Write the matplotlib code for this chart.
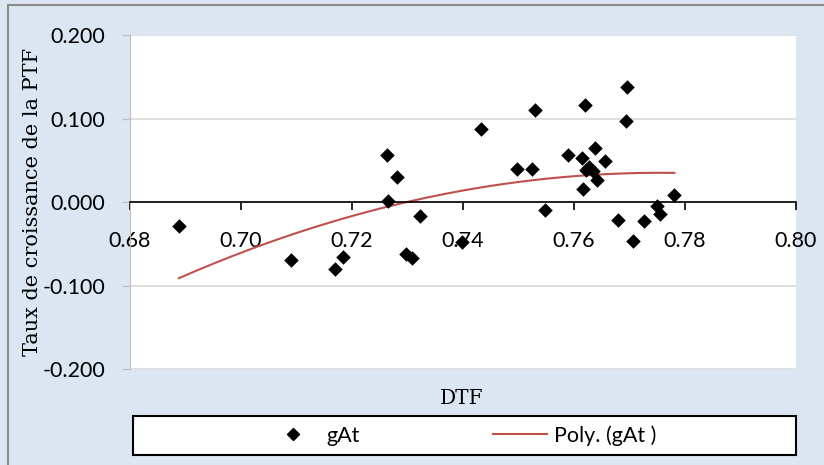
import numpy as np
import matplotlib
matplotlib.use('Agg')
import matplotlib.pyplot as plt
from matplotlib.patches import Rectangle
from matplotlib.lines import Line2D

# données
dtf = [0.6888, 0.7090, 0.7169, 0.7184, 0.7263, 0.7281, 0.7265, 0.7297, 0.7309,
       0.7323, 0.7398, 0.7433, 0.7529, 0.7497, 0.7524, 0.7547, 0.7619, 0.7696,
       0.7694, 0.7589, 0.7614, 0.7638, 0.7656, 0.7627, 0.7634, 0.7622, 0.7641,
       0.7617, 0.7679, 0.7706, 0.7727, 0.7749, 0.7755, 0.7781]
gat = [-0.0284, -0.0695, -0.0795, -0.0659, 0.0566, 0.0303, 0.0016, -0.0619, -0.0663,
       -0.0168, -0.0472, 0.0881, 0.1097, 0.0399, 0.0399, -0.0092, 0.1157, 0.1373,
       0.0974, 0.0566, 0.0534, 0.0647, 0.0495, 0.0426, 0.0367, 0.0379, 0.0267,
       0.0156, -0.0208, -0.0467, -0.0220, -0.0041, -0.0144, 0.0084]
x_ticks = [0.68, 0.70, 0.72, 0.74, 0.76, 0.78, 0.80]
y_ticks = [-0.2, -0.1, 0.0, 0.1, 0.2]

# tendance polynomiale (ordre 2), comme Excel
coef = np.polyfit(dtf, gat, 2)
xs = np.linspace(min(dtf), max(dtf), 200)
ys = np.polyval(coef, xs)

bg = '#DCE6F2'
fig = plt.figure(figsize=(8.24, 4.65), dpi=100, facecolor=bg)
fig.patches.append(Rectangle((8 / 824, -0.1), 1.2, 1.1 - 5 / 465, transform=fig.transFigure,
                             fill=False, edgecolor='#8C8C8C', linewidth=1.5))

ax = fig.add_axes([130 / 824, 1 - 369.3 / 465, (796 - 130) / 824, (369.3 - 35) / 465])
ax.set_facecolor('white')

ax.scatter(dtf, gat, marker='D', s=55, color='black', zorder=3, linewidths=0)
ax.plot(xs, ys, color='#C0504D', linewidth=1.5, zorder=2)

ax.set_xlim(0.68, 0.80)
ax.set_ylim(-0.2, 0.2)
ax.set_xticks(x_ticks)
ax.set_yticks(y_ticks)
ax.xaxis.set_major_formatter(matplotlib.ticker.FormatStrFormatter('%.2f'))
ax.yaxis.set_major_formatter(matplotlib.ticker.FormatStrFormatter('%.3f'))

# axe des x à y = 0
ax.spines['bottom'].set_position(('data', 0))
ax.spines['bottom'].set_color('black')
ax.spines['bottom'].set_linewidth(1.2)
ax.spines['top'].set_visible(False)
ax.spines['right'].set_visible(False)
ax.spines['left'].set_color('#BFBFBF')

tick_font = 'Lato'
ax.tick_params(axis='x', direction='out', length=6, width=1.2, color='black', pad=15,
               labelsize=15.5)
ax.tick_params(axis='y', direction='out', length=6, width=1, color='#BFBFBF', pad=12,
               labelsize=15.5)
for lab in ax.get_xticklabels() + ax.get_yticklabels():
    lab.set_family(tick_font)

ax.grid(axis='y', color='#D9D9D9', linewidth=1.2)
ax.set_axisbelow(True)

ax.set_ylabel('Taux de croissance de la PTF', family='DejaVu Serif', fontsize=15)
ax.yaxis.set_label_coords((33 - 130) / 666, 0.5)
ax.yaxis.label.set_va('center')
fig.text(462 / 824, 1 - 398 / 465, 'DTF', family='DejaVu Serif', fontsize=14.5,
         ha='center', va='center')

# légende
fig.patches.append(Rectangle((133 / 824, 1 - 455 / 465), (796 - 133) / 824, 39 / 465,
                             transform=fig.transFigure, facecolor='white',
                             edgecolor='black', linewidth=1.5))
handles = [Line2D([], [], marker='D', color='black', linestyle='none', markersize=6),
           Line2D([], [], color='#C0504D', linewidth=1.5)]
leg = fig.legend(handles, ['gAt', 'Poly. (gAt )'], loc='center',
                 bbox_to_anchor=(461 / 824, 1 - 435.5 / 465), ncol=2, frameon=False,
                 prop={'family': tick_font, 'size': 15.5}, handlelength=2.5,
                 handletextpad=0.3, columnspacing=6.2)

fig.savefig('out.png', dpi=100, facecolor=bg)
